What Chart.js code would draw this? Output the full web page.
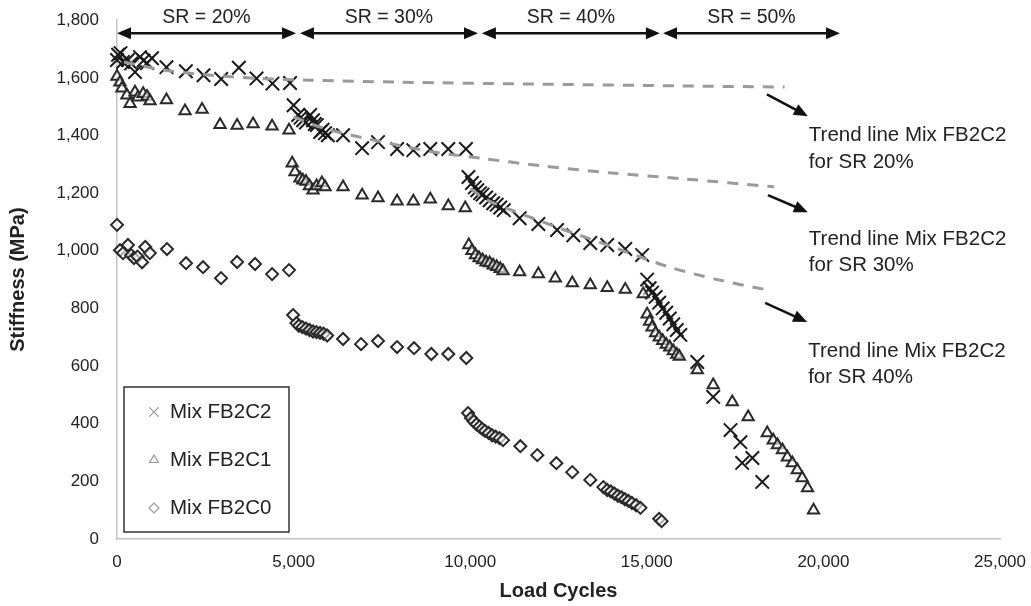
<!DOCTYPE html>
<html>
<head>
<meta charset="utf-8">
<script src="https://cdn.jsdelivr.net/npm/chart.js@4/dist/chart.umd.min.js"></script>
<style>
  body { margin: 0; background: #fff; }
  canvas { display: block; }
</style>
</head>
<body>
<canvas id="chart" width="1031" height="606"></canvas>
<script>
// Mix FB2C2 (crosses)
const fb2c2Cycles = [0, 30, 100, 170, 310, 400, 510, 650, 750, 850, 990, 1400, 1950, 2450, 2950, 3450, 3950, 4400, 4900,
    5000, 5130, 5200, 5270, 5350, 5470, 5550, 5600, 5660, 5750, 5820, 5890, 5970,
    6400, 6940, 7390, 7930, 8390, 8870, 9380, 9880,
    9950, 10050, 10130, 10200, 10280, 10350, 10450, 10550, 10650, 10750, 10850, 10950,
    11400, 11930, 12460, 12920, 13400, 13880, 14390, 14870,
    15010, 15080, 15150, 15250, 15350, 15450, 15550, 15650, 15750, 15850, 15950,
    16430, 16880, 17370, 17650, 17700, 17990, 18270];
const fb2c2Stiffness = [1662, 1680, 1686, 1655, 1662, 1650, 1620, 1672, 1660, 1651, 1668, 1637, 1623, 1609, 1596, 1635, 1598, 1580, 1582,
    1505, 1471, 1462, 1453, 1445, 1471, 1453, 1440, 1436, 1412, 1420, 1408, 1401,
    1401, 1356, 1377, 1353, 1349, 1353, 1353, 1353,
    1256, 1235, 1220, 1210, 1200, 1195, 1185, 1175, 1165, 1160, 1150, 1141,
    1113, 1093, 1072, 1054, 1027, 1020, 1006, 985,
    900, 870, 855, 840, 820, 800, 785, 765, 745, 725, 708,
    614, 493, 378, 336, 264, 281, 198];

// Mix FB2C1 (triangles)
const fb2c1Cycles = [0, 85, 140, 280, 370, 510, 595, 740, 850, 935, 1400, 1926, 2408, 2918, 3400, 3853, 4391, 4870,
    4960, 5040, 5180, 5260, 5350, 5450, 5550, 5650, 5800, 5890,
    6400, 6940, 7390, 7930, 8390, 8870, 9380, 9860,
    9960, 10050, 10150, 10250, 10350, 10450, 10550, 10650, 10750, 10850, 10930,
    11400, 11930, 12410, 12890, 13400, 13880, 14390, 14900,
    15010, 15080, 15150, 15250, 15350, 15450, 15550, 15650, 15750, 15850, 15920,
    16430, 16880, 17420, 17870, 18410, 18580, 18700, 18840, 18980, 19120, 19260, 19400, 19550, 19720];
const fb2c1Stiffness = [1605, 1585, 1564, 1540, 1510, 1550, 1533, 1545, 1535, 1520, 1523, 1485, 1490, 1437, 1435, 1440, 1432, 1418,
    1304, 1273, 1252, 1245, 1240, 1225, 1210, 1225, 1235, 1221,
    1221, 1193, 1183, 1172, 1172, 1179, 1155, 1148,
    1020, 1000, 985, 975, 968, 960, 958, 950, 945, 938, 930,
    926, 919, 905, 888, 881, 872, 866, 850,
    780, 755, 735, 715, 700, 688, 675, 665, 652, 640, 633,
    586, 534, 475, 423, 368, 343, 326, 309, 284, 264, 239, 212, 177, 100];

// Mix FB2C0 (diamonds)
const fb2c0Cycles = [0, 85, 170, 310, 400, 480, 580, 710, 800, 930, 1416, 1955, 2436, 2946, 3400, 3909, 4391, 4870,
    4986, 5080, 5150, 5250, 5350, 5450, 5550, 5650, 5750, 5850, 5950,
    6400, 6910, 7390, 7930, 8410, 8900, 9380, 9890,
    9940, 10020, 10100, 10180, 10260, 10340, 10420, 10520, 10620, 10720, 10830, 10930,
    11420, 11900, 12440, 12890, 13400,
    13770, 13880, 13980, 14080, 14180, 14280, 14380, 14480, 14580, 14700, 14820,
    15350, 15420];
const fb2c0Stiffness = [1090, 1002, 992, 1020, 985, 975, 980, 960, 1013, 992, 1006, 957, 943, 905, 961, 954, 919, 933,
    777, 749, 740, 735, 730, 725, 720, 718, 715, 712, 706,
    694, 676, 687, 666, 662, 642, 642, 628,
    437, 420, 408, 398, 390, 382, 375, 368, 360, 355, 350, 343,
    322, 291, 263, 232, 205,
    180, 170, 165, 158, 150, 145, 138, 132, 125, 117, 108,
    70, 62];

// trend lines of Mix FB2C2 (dashed)
const trend20Cycles = [200, 1300, 2600, 4000, 5500, 8000, 12000, 16000, 18900];
const trend20Stiffness = [1655, 1627, 1610, 1598, 1592, 1585, 1578, 1572, 1568];
const trend30Cycles = [5000, 5500, 6000, 7000, 8000, 9000, 10300, 12000, 14000, 16000, 18600];
const trend30Stiffness = [1465, 1440, 1420, 1391, 1365, 1342, 1321, 1295, 1270, 1250, 1222];
const trend40Cycles = [10000, 10500, 11300, 12500, 14000, 15600, 17000, 18500];
const trend40Stiffness = [1215, 1175, 1135, 1080, 1015, 945, 900, 862];

// SR ranges drawn as double arrows over the plot
const srLabels = ['SR = 20%', 'SR = 30%', 'SR = 40%', 'SR = 50%'];
const srStart = [0, 5180, 10330, 15460];
const srEnd = [5070, 10220, 15370, 20470];
const srLevel = 1755;

// notes pointing at the trend lines
const noteLines = [['Trend line Mix FB2C2', 'for SR 20%'], ['Trend line Mix FB2C2', 'for SR 30%'], ['Trend line Mix FB2C2', 'for SR 40%']];
const noteFrom = [[18400, 1543], [18430, 1193], [18350, 819]];
const noteTo = [[19560, 1467], [19560, 1134], [19540, 753]];
const noteTextY = [[1401, 1308], [1041, 950], [652, 562]];

const legendNames = ['Mix FB2C2', 'Mix FB2C1', 'Mix FB2C0'];
const legendStyles = ['crossRot', 'triangle', 'rectRot'];

const FONT = '"Liberation Sans", Arial, sans-serif';

function toPoints(xs, ys) {
    return xs.map(function(x, i) { return {x: x, y: ys[i]}; });
}

function drawArrow(ctx, x1, y1, x2, y2, both) {
    const ang = Math.atan2(y2 - y1, x2 - x1);
    const len = 14, half = 6;
    ctx.beginPath();
    ctx.moveTo(x1 + (both ? Math.cos(ang) * len * 0.8 : 0), y1 + (both ? Math.sin(ang) * len * 0.8 : 0));
    ctx.lineTo(x2 - Math.cos(ang) * len * 0.8, y2 - Math.sin(ang) * len * 0.8);
    ctx.stroke();
    const head = function(px, py, a) {
        ctx.beginPath();
        ctx.moveTo(px, py);
        ctx.lineTo(px - Math.cos(a) * len + Math.sin(a) * half, py - Math.sin(a) * len - Math.cos(a) * half);
        ctx.lineTo(px - Math.cos(a) * len - Math.sin(a) * half, py - Math.sin(a) * len + Math.cos(a) * half);
        ctx.closePath();
        ctx.fill();
    };
    head(x2, y2, ang);
    if (both) head(x1, y1, ang + Math.PI);
}

const annotations = {
    id: 'annotations',
    afterDatasetsDraw(chart) {
        const ctx = chart.ctx;
        const xs = chart.scales.x, ys = chart.scales.y;
        ctx.save();
        ctx.strokeStyle = '#111';
        ctx.fillStyle = '#111';
        ctx.lineWidth = 2.5;

        // SR arrows
        const ySr = ys.getPixelForValue(srLevel);
        for (let i = 0; i < srLabels.length; i++) {
            const a = xs.getPixelForValue(srStart[i]);
            const b = xs.getPixelForValue(srEnd[i]);
            drawArrow(ctx, a, ySr, b, ySr, true);
            ctx.font = '19.5px ' + FONT;
            ctx.fillStyle = '#222';
            ctx.textAlign = 'center';
            ctx.textBaseline = 'middle';
            ctx.fillText(srLabels[i], (a + b) / 2, ySr - 16);
            ctx.fillStyle = '#111';
        }

        // trend notes
        for (let i = 0; i < noteLines.length; i++) {
            const x1 = xs.getPixelForValue(noteFrom[i][0]), y1 = ys.getPixelForValue(noteFrom[i][1]);
            const x2 = xs.getPixelForValue(noteTo[i][0]), y2 = ys.getPixelForValue(noteTo[i][1]);
            drawArrow(ctx, x1, y1, x2, y2, false);
            ctx.font = '20.5px ' + FONT;
            ctx.fillStyle = '#222';
            ctx.textAlign = 'left';
            ctx.textBaseline = 'middle';
            ctx.fillText(noteLines[i][0], x2 + 1, ys.getPixelForValue(noteTextY[i][0]));
            ctx.fillText(noteLines[i][1], x2 + 1, ys.getPixelForValue(noteTextY[i][1]));
            ctx.fillStyle = '#111';
        }

        // legend box in lower left corner
        const area = chart.chartArea;
        const bx = area.left + 7, bw = 165, bh = 145, by = area.bottom - 7 - bh;
        ctx.fillStyle = '#fff';
        ctx.fillRect(bx, by, bw, bh);
        ctx.strokeStyle = '#333';
        ctx.lineWidth = 1.5;
        ctx.strokeRect(bx, by, bw, bh);
        ctx.font = '20.5px ' + FONT;
        ctx.textAlign = 'left';
        ctx.textBaseline = 'middle';
        for (let i = 0; i < legendNames.length; i++) {
            const ly = by + 25 + i * 48;
            ctx.strokeStyle = '#999';
            ctx.fillStyle = '#fff';
            ctx.lineWidth = 1.2;
            Chart.helpers.drawPoint(ctx, {pointStyle: legendStyles[i], radius: i == 0 ? 6.5 : 5, borderWidth: 1.2}, bx + 30, ly);
            ctx.fillStyle = '#222';
            ctx.fillText(legendNames[i], bx + 46, ly);
        }
        ctx.restore();
    }
};

const markerColor = '#2a2a2a';
const trendColor = '#9a9a9a';

const ctx = document.getElementById('chart');
const chart = new Chart(ctx, {
    type: 'scatter',
    data: {
        datasets: [
            {
                label: 'Trend SR 20%', type: 'line', data: toPoints(trend20Cycles, trend20Stiffness),
                borderColor: trendColor, borderWidth: 3, borderDash: [11, 9], pointRadius: 0, tension: 0.3, fill: false
            },
            {
                label: 'Trend SR 30%', type: 'line', data: toPoints(trend30Cycles, trend30Stiffness),
                borderColor: trendColor, borderWidth: 3, borderDash: [11, 9], pointRadius: 0, tension: 0.3, fill: false
            },
            {
                label: 'Trend SR 40%', type: 'line', data: toPoints(trend40Cycles, trend40Stiffness),
                borderColor: trendColor, borderWidth: 3, borderDash: [11, 9], pointRadius: 0, tension: 0.3, fill: false
            },
            {
                label: legendNames[2], data: toPoints(fb2c0Cycles, fb2c0Stiffness),
                pointStyle: 'rectRot', pointRadius: 6, borderColor: markerColor, backgroundColor: 'rgba(255,255,255,0.6)', borderWidth: 2
            },
            {
                label: legendNames[1], data: toPoints(fb2c1Cycles, fb2c1Stiffness),
                pointStyle: 'triangle', pointRadius: 6.5, borderColor: markerColor, backgroundColor: 'rgba(255,255,255,0.6)', borderWidth: 2
            },
            {
                label: legendNames[0], data: toPoints(fb2c2Cycles, fb2c2Stiffness),
                pointStyle: 'crossRot', pointRadius: 9.5, borderColor: '#1a1a1a', borderWidth: 2
            }
        ]
    },
    options: {
        responsive: false,
        animation: false,
        clip: false,
        layout: {
            padding: {top: 20, right: 31, left: 0, bottom: 0}
        },
        plugins: {
            legend: {display: false},
            tooltip: {enabled: false}
        },
        scales: {
            x: {
                type: 'linear',
                min: 0,
                max: 25000,
                ticks: {stepSize: 5000, color: '#222', font: {family: FONT, size: 17}, padding: 5},
                grid: {display: false},
                border: {display: true, color: '#c4c4c4', width: 1.5},
                title: {display: true, text: 'Load Cycles', color: '#222', font: {family: FONT, size: 20, weight: 'bold'}, padding: {top: 4, bottom: 3}},
                afterFit: function(scale) { scale.height = 67; }
            },
            y: {
                min: 0,
                max: 1800,
                ticks: {stepSize: 200, color: '#222', font: {family: FONT, size: 17}, padding: 10},
                grid: {display: false},
                border: {display: true, color: '#c4c4c4', width: 1.5},
                title: {display: true, text: 'Stiffness (MPa)', color: '#222', font: {family: FONT, size: 20, weight: 'bold'}, padding: {top: 6, bottom: 4}},
                afterFit: function(scale) { scale.width = 117; }
            }
        }
    },
    plugins: [annotations]
});
</script>
</body>
</html>
